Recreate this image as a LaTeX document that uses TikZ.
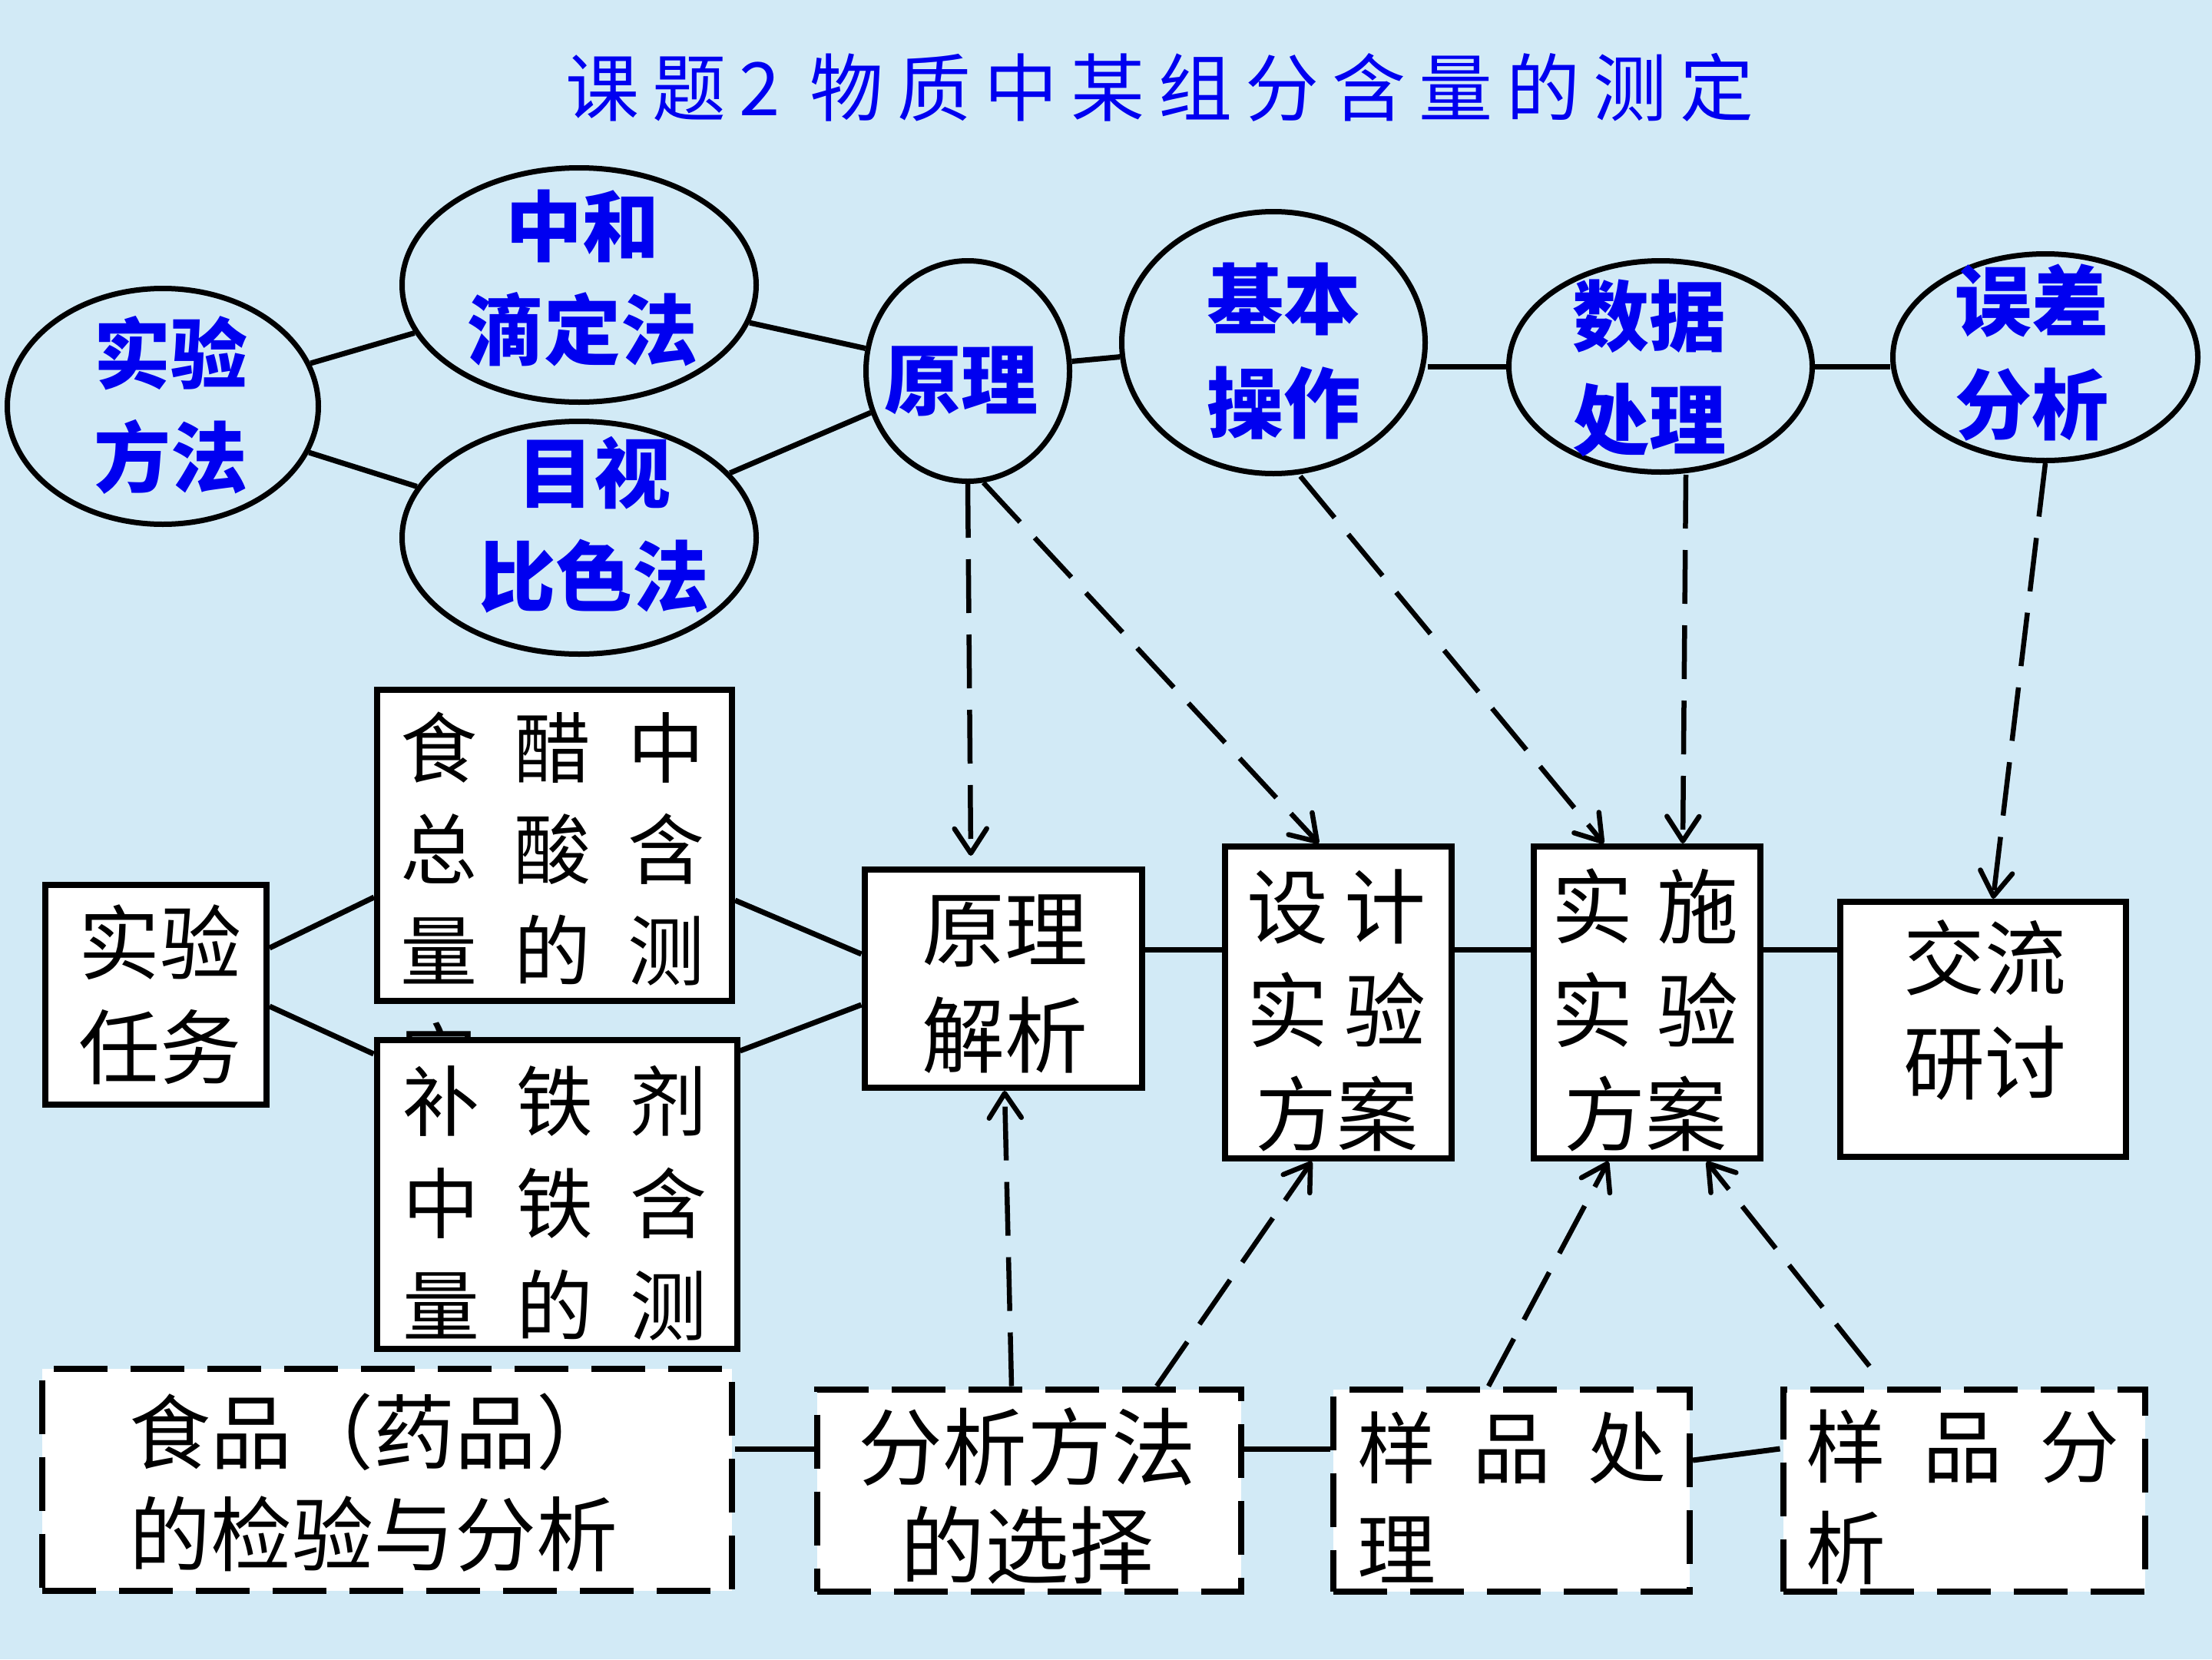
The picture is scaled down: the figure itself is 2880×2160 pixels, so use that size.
\documentclass[tikz,border=0pt]{standalone}
\usepackage{fontspec}
\newfontfamily\cjk{Noto Sans CJK SC}
\newfontfamily\cjkt[LetterSpace=18]{Noto Sans CJK SC}
\usetikzlibrary{shapes.geometric,arrows.meta,calc}
\pgfdeclarelayer{bg}
\pgfdeclarelayer{lines}
\pgfsetlayers{bg,lines,main}
\definecolor{bgblue}{RGB}{210,234,246}
\definecolor{tblue}{RGB}{0,0,240}
\newcommand\gp{\hspace{48pt}}
\tikzset{
 ell/.style={ellipse, draw=black, line width=7pt, inner sep=0pt},
 etxt/.style={text=tblue, font=\cjk\bfseries\fontsize{100}{135}\selectfont, align=center, inner sep=0pt},
 box/.style={rectangle, draw=black, fill=white, line width=8pt, inner sep=0pt},
 dbox/.style={rectangle, draw=black, fill=white, line width=8pt, dash pattern=on 70pt off 30pt, inner sep=0pt},
 btxt/.style={text=black, font=\cjk\fontsize{104}{134}\selectfont, align=center, inner sep=0pt},
 conn/.style={line width=7pt},
 darr/.style={line width=6.5pt, dash pattern=on 70pt off 28pt, -{Straight Barb[length=32pt,width=42pt,round]}},
}
\begin{document}
\begin{tikzpicture}[x=1pt,y=-1pt]
\begin{pgfonlayer}{bg}
\fill[bgblue] (0,0) rectangle (2880,2160);
\end{pgfonlayer}
\useasboundingbox (0,0) rectangle (2880,2160);

% title
\node[text=tblue, font=\cjkt\fontsize{96}{100}\selectfont, inner sep=0pt] (title) at (1510,114) {课题2 物质中某组分含量的测定};

% ellipses
\node[ell, minimum width=405pt, minimum height=307pt] (sf) at (212,529) {};
\node[etxt] (sft) at (222,527) {实验\\方法};
\node[ell, minimum width=461pt, minimum height=305pt] (zh) at (754,371) {};
\node[etxt] (zht) at (758,362) {中和\\滴定法};
\node[ell, minimum width=461pt, minimum height=303pt] (mv) at (754,700) {};
\node[etxt] (mvt) at (773,683) {目视\\比色法};
\node[ell, minimum width=265pt, minimum height=287pt] (yl) at (1260,483) {};
\node[etxt] (ylt) at (1251,496) {原理};
\node[ell, minimum width=395pt, minimum height=341pt] (jb) at (1658,446) {};
\node[etxt] (jbt) at (1671,457) {基本\\操作};
\node[ell, minimum width=395pt, minimum height=275pt] (sj) at (2162,477) {};
\node[etxt] (sjt) at (2147,479) {数据\\处理};
\node[ell, minimum width=397pt, minimum height=269pt] (wc) at (2663,465) {};
\node[etxt] (wct) at (2645,459) {误差\\分析};

% solid boxes
\node[box, minimum width=288pt, minimum height=286pt] (rw) at (203,1295) {};
\node[btxt, font=\cjk\fontsize{106}{136}\selectfont] (rwt) at (208,1295) {实验\\任务};
\node[box, minimum width=462pt, minimum height=405pt] (b1) at (722,1100) {};
\node[btxt, align=left, font=\cjk\fontsize{100}{132}\selectfont] (b1t) at (719,1175) {食\gp 醋\gp 中\\总\gp 酸\gp 含\\量\gp 的\gp 测\\[8pt]定};
\node[box, minimum width=469pt, minimum height=402pt] (b2) at (725,1555) {};
\node[btxt, align=left, font=\cjk\fontsize{100}{133}\selectfont] (b2t) at (722,1566) {补\gp 铁\gp 剂\\中\gp 铁\gp 含\\量\gp 的\gp 测};
\node[box, minimum width=361pt, minimum height=284pt] (yljx) at (1306,1274) {};
\node[btxt, font=\cjk\fontsize{108}{138}\selectfont] (yljxt) at (1308,1281) {原理\\解析};
\node[box, minimum width=295pt, minimum height=406pt] (sjfa) at (1742,1305) {};
\node[btxt, font=\cjk\fontsize{106}{135}\selectfont] (sjfat) at (1740,1315) {设\hspace{22pt}计\\实\hspace{22pt}验\\方案};
\node[box, minimum width=295pt, minimum height=406pt] (ssfa) at (2144,1305) {};
\node[btxt, font=\cjk\fontsize{106}{135}\selectfont] (ssfat) at (2142,1315) {实\hspace{32pt}施\\实\hspace{32pt}验\\方案};
\node[box, minimum width=372pt, minimum height=332pt] (jl) at (2582,1340) {};
\node[btxt, font=\cjk\fontsize{106}{136}\selectfont] (jlt) at (2584,1315) {交流\\研讨};

% dashed boxes
\node[dbox, minimum width=898pt, minimum height=289pt] (sp) at (504,1926) {};
\node[btxt, align=left, anchor=west, font=\cjk\fontsize{106}{133}\selectfont] (spt) at (168,1930) {食品（药品）\\的检验与分析};
\node[dbox, minimum width=552pt, minimum height=263pt] (ff) at (1340,1940) {};
\node[btxt, font=\cjk\fontsize{110}{128}\selectfont] (fft) at (1337,1947) {分析方法\\的选择};
\node[dbox, minimum width=464pt, minimum height=263pt] (yc) at (1968,1940) {};
\node[btxt, align=left, anchor=west, font=\cjk\fontsize{102}{132}\selectfont] (yct) at (1767,1949) {样\gp 品\gp 处\\理};
\node[dbox, minimum width=471pt, minimum height=263pt] (yf) at (2557,1940) {};
\node[btxt, align=left, anchor=west, font=\cjk\fontsize{104}{132}\selectfont] (yft) at (2351,1949) {样\gp 品\gp 分\\析};

\begin{pgfonlayer}{lines}
% top ellipse connectors
\draw[conn] (sf) -- (zh);
\draw[conn] (sf) -- (mv);
\draw[conn] (zh) -- (yl);
\draw[conn] (mv) -- (yl);
\draw[conn] (yl) -- (jb);
\draw[conn] (sj.west) -- (sj.west -| jb.east);
\draw[conn] (sj.east) -- (sj.east -| wc.west);
% box connectors
\draw[conn] ([yshift=61pt]rw.east) -- ([yshift=-68pt]b1.west);
\draw[conn] ([yshift=-15pt]rw.east) -- ([yshift=183pt]b2.west);
\draw[conn] ([yshift=-72pt]b1.east) -- ([yshift=32pt]yljx.west);
\draw[conn] ([yshift=187pt]b2.east) -- ([yshift=-34pt]yljx.west);
\draw[conn] ([yshift=38pt]yljx.east) -- ([yshift=38pt]yljx.east -| sjfa.west);
\draw[conn] ([yshift=69pt]sjfa.east) -- ([yshift=69pt]sjfa.east -| ssfa.west);
\draw[conn] ([yshift=69pt]ssfa.east) -- ([yshift=69pt]ssfa.east -| jl.west);
% bottom connectors
\draw[conn] ([yshift=40pt]sp.east) -- ([yshift=40pt]sp.east -| ff.west);
\draw[conn] ([yshift=54pt]ff.east) -- ([yshift=54pt]ff.east -| yc.west);
\draw[conn] ([yshift=39pt]yc.east) -- ([yshift=54pt]yf.west);
% dashed arrows
\draw[darr] (yl.south) -- ([xshift=-42pt,yshift=14pt]yljx.north);
\draw[darr] (yl.-82) -- ([xshift=-25pt]sjfa.north);
\draw[darr] ([xshift=35pt]jb.south) -- ([xshift=-56pt]ssfa.north);
\draw[darr] ([xshift=33pt]sj.south) -- ([xshift=47pt]ssfa.north);
\draw[darr] (wc.south) -- ([xshift=13pt]jl.north);
\draw[darr] ([xshift=-23pt]ff.north) -- ([xshift=2pt]yljx.south);
\draw[darr] ([xshift=166pt]ff.north) -- ([xshift=-34pt]sjfa.south);
\draw[darr] ([xshift=-30pt]yc.north) -- ([xshift=-50pt]ssfa.south);
\draw[darr] ([xshift=-123pt,yshift=26pt]yf.north) -- ([xshift=78pt]ssfa.south);
\end{pgfonlayer}
\end{tikzpicture}
\end{document}
